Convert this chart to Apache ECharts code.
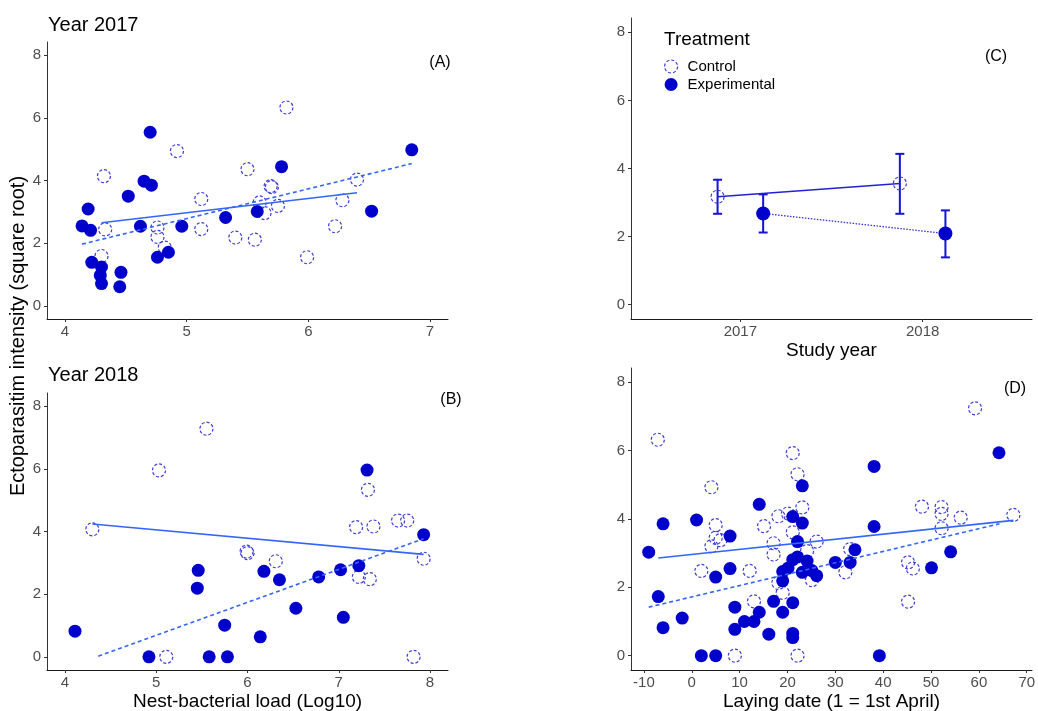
<!DOCTYPE html>
<html>
<head>
<meta charset="utf-8">
<script src="https://cdn.jsdelivr.net/npm/echarts@6/dist/echarts.min.js"></script>
<style>
  html, body { margin: 0; padding: 0; background: #fff; }
  #chart { width: 1038px; height: 711px; }
</style>
</head>
<body>
<div id="chart"></div>
<script>
// ---- tick values ----
const yTicks = [0, 2, 4, 6, 8];
const loadTicks2017 = [4, 5, 6, 7];
const loadTicks2018 = [4, 5, 6, 7, 8];
const dateTicks = [-10, 0, 10, 20, 30, 40, 50, 60, 70];
const studyYears = [2017, 2018];

// ---- (A) 2017: nest-bacterial load vs intensity ----
const load2017Control = [
  [4.32, 4.14], [4.33, 2.44], [4.30, 1.59], [4.76, 2.50], [4.76, 2.20], [4.82, 1.86],
  [4.92, 4.94], [5.12, 3.41], [5.12, 2.45], [5.40, 2.18], [5.50, 4.36], [5.56, 2.11],
  [5.60, 3.30], [5.64, 2.96], [5.69, 3.82], [5.70, 3.79], [5.75, 3.19], [5.82, 6.33],
  [5.99, 1.55], [6.22, 2.54], [6.28, 3.37], [6.40, 4.03]
];
const load2017Experimental = [
  [4.14, 2.55], [4.19, 3.09], [4.21, 2.41], [4.22, 1.39], [4.30, 1.24], [4.29, 0.97],
  [4.30, 0.71], [4.45, 0.61], [4.46, 1.07], [4.52, 3.50], [4.62, 2.54], [4.65, 3.98],
  [4.71, 3.85], [4.70, 5.54], [4.76, 1.55], [4.85, 1.71], [4.96, 2.54], [5.32, 2.82],
  [5.58, 3.01], [5.78, 4.44], [6.52, 3.02], [6.85, 4.98]
];
const fit2017Control = [[4.30, 2.65], [6.40, 3.61]];
const fit2017Experimental = [[4.14, 1.97], [6.85, 4.54]];

// ---- (B) 2018: nest-bacterial load vs intensity ----
const load2018Control = [
  [4.30, 4.07], [5.03, 5.95], [5.11, 0.00], [5.55, 7.28], [5.99, 3.36], [6.00, 3.31],
  [6.31, 3.05], [7.19, 4.14], [7.22, 2.55], [7.32, 5.33], [7.34, 2.48], [7.38, 4.16],
  [7.65, 4.35], [7.75, 4.35], [7.82, 0.00], [7.93, 3.13]
];
const load2018Experimental = [
  [4.11, 0.82], [4.92, 0.00], [5.46, 2.76], [5.45, 2.19], [5.58, 0.00], [5.75, 1.01],
  [5.78, 0.00], [6.14, 0.64], [6.18, 2.73], [6.35, 2.46], [6.53, 1.55], [6.78, 2.55],
  [7.02, 2.78], [7.05, 1.26], [7.22, 2.91], [7.31, 5.96], [7.93, 3.90]
];
const fit2018Control = [[4.30, 4.24], [7.93, 3.27]];
const fit2018Experimental = [[4.365, 0.02], [7.93, 3.77]];

// ---- (C) means and error bars by study year ----
const meanControl = [3.17, 3.56];
const lowControl = [2.67, 2.67];
const highControl = [3.67, 4.43];
const meanExperimental = [2.68, 2.09];
const lowExperimental = [2.12, 1.39];
const highExperimental = [3.24, 2.77];

// ---- (D) laying date vs intensity ----
const dateControl = [
  [-7.1, 6.32], [2.0, 2.48], [4.1, 4.93], [4.1, 3.20], [5.0, 3.82], [5.0, 3.45],
  [6.0, 3.38], [9.0, 0.00], [12.1, 2.48], [13.0, 1.59], [15.1, 3.79], [17.1, 3.29],
  [17.1, 2.96], [18.1, 4.08], [18.1, 2.13], [19.0, 1.84], [20.1, 4.16], [21.1, 5.93],
  [21.1, 3.61], [22.1, 5.31], [22.1, 0.00], [23.1, 4.34], [24.1, 3.06], [25.1, 2.21],
  [26.1, 3.34], [32.1, 2.44], [33.1, 3.12], [45.2, 2.73], [45.2, 1.58], [46.2, 2.55],
  [48.1, 4.36], [52.2, 4.35], [52.2, 4.15], [52.2, 3.73], [56.2, 4.04], [59.2, 7.24],
  [67.2, 4.12]
];
const dateExperimental = [
  [-9.0, 3.03], [-7.0, 1.73], [-6.0, 3.86], [-6.0, 0.82], [-2.0, 1.10], [1.0, 3.97],
  [2.0, 0.00], [5.0, 0.00], [5.0, 2.30], [8.0, 3.50], [8.0, 2.55], [9.0, 1.42],
  [9.0, 0.77], [11.0, 1.00], [13.0, 1.00], [14.1, 4.43], [14.1, 1.27], [16.1, 0.63],
  [17.1, 1.59], [19.0, 1.27], [19.0, 2.46], [19.0, 2.19], [20.1, 2.56], [21.1, 1.55],
  [21.1, 4.07], [21.1, 2.81], [21.1, 0.65], [21.1, 0.53], [22.1, 3.34], [22.1, 2.89],
  [23.1, 4.97], [23.1, 3.88], [23.1, 2.44], [24.1, 2.77], [25.1, 2.49], [26.1, 2.34],
  [30.0, 2.73], [33.1, 2.73], [34.1, 3.10], [38.1, 5.54], [38.1, 3.78], [39.2, 0.00],
  [50.1, 2.57], [54.1, 3.04], [64.2, 5.94]
];
const fitDateControl = [[-7.0, 2.86], [67.2, 3.96]];
const fitDateExperimental = [[-9.0, 1.42], [64.3, 3.86]];

// ---- styles ----
const FONT = '"Liberation Sans", Arial, sans-serif';
const FILL = '#0000CD';
const OPEN = '#3a3ad6';
const FIT = '#3366FF';
const BAR = '#1414d2';
const DODGE = 0.125;

const openStyle = { color: 'rgba(255,255,255,0)', borderColor: OPEN, borderWidth: 1.2, borderType: [3, 2], opacity: 1 };
const fillStyle = { color: FILL, opacity: 1 };

function xAxisFor(grid, min, max, ticks, name) {
  return {
    type: 'value', gridIndex: grid, min: min, max: max,
    splitLine: { show: false },
    axisLine: { onZero: false, lineStyle: { color: '#1a1a1a', width: 1 } },
    axisTick: { show: true, length: 3, customValues: ticks, lineStyle: { color: '#333' } },
    axisLabel: { customValues: ticks, color: '#4d4d4d', fontSize: 15, fontFamily: FONT, margin: 5,
                 formatter: v => String(v) },
    name: name || '', nameLocation: 'middle', nameGap: 22,
    nameTextStyle: { color: '#000', fontSize: 19, fontFamily: FONT }
  };
}
function yAxisFor(grid) {
  return {
    type: 'value', gridIndex: grid, min: -0.42, max: 8.42,
    splitLine: { show: false },
    axisLine: { onZero: false, lineStyle: { color: '#333', width: 1 } },
    axisTick: { show: true, length: 3, customValues: yTicks, lineStyle: { color: '#333' } },
    axisLabel: { customValues: yTicks, color: '#4d4d4d', fontSize: 15, fontFamily: FONT, margin: 6,
                 formatter: v => String(v) }
  };
}
function scatter(name, idx, data, style) {
  return { type: 'scatter', name: name, xAxisIndex: idx, yAxisIndex: idx, data: data,
           symbol: 'circle', symbolSize: 13, itemStyle: style, z: 2 };
}
function fitLine(name, idx, data, dashed) {
  return { type: 'line', name: name, xAxisIndex: idx, yAxisIndex: idx, data: data,
           showSymbol: false, symbol: 'none', silent: true, z: 3,
           lineStyle: { color: FIT, width: 1.6, type: dashed ? [4, 3] : 'solid' } };
}

// dodged positions for the study-year panel
const ctrlMeans = studyYears.map((y, i) => [y - DODGE, meanControl[i]]);
const expMeans = studyYears.map((y, i) => [y + DODGE, meanExperimental[i]]);
const ctrlBars = studyYears.map((y, i) => [y - DODGE, lowControl[i], highControl[i]]);
const expBars = studyYears.map((y, i) => [y + DODGE, lowExperimental[i], highExperimental[i]]);

function renderErrorBar(params, api) {
  const x = api.value(0);
  const lo = api.coord([x, api.value(1)]);
  const hi = api.coord([x, api.value(2)]);
  const cap = 4.5;
  const style = { stroke: BAR, lineWidth: 2 };
  return {
    type: 'group',
    children: [
      { type: 'line', shape: { x1: lo[0], y1: lo[1], x2: hi[0], y2: hi[1] }, style: style },
      { type: 'line', shape: { x1: hi[0] - cap, y1: hi[1], x2: hi[0] + cap, y2: hi[1] }, style: style },
      { type: 'line', shape: { x1: lo[0] - cap, y1: lo[1], x2: lo[0] + cap, y2: lo[1] }, style: style }
    ]
  };
}

const gridBase = { containLabel: false, outerBoundsMode: 'none' };

const option = {
  animation: false,
  backgroundColor: '#fff',
  textStyle: { fontFamily: FONT },
  grid: [
    Object.assign({ left: 47, top: 42, width: 401, height: 277 }, gridBase),
    Object.assign({ left: 47, top: 393, width: 401, height: 277 }, gridBase),
    Object.assign({ left: 631, top: 18, width: 401, height: 301 }, gridBase),
    Object.assign({ left: 631, top: 368, width: 401, height: 302 }, gridBase)
  ],
  xAxis: [
    xAxisFor(0, 3.852, 7.148, loadTicks2017),
    xAxisFor(1, 3.803, 8.197, loadTicks2018, 'Nest-bacterial load (Log10)'),
    xAxisFor(2, 2016.4, 2018.6, studyYears, 'Study year'),
    xAxisFor(3, -12.7, 71.1, dateTicks, 'Laying date (1 = 1st April)')
  ],
  yAxis: [yAxisFor(0), yAxisFor(1), yAxisFor(2), yAxisFor(3)],
  legend: {
    left: 664, top: 59, orient: 'vertical', itemWidth: 13, itemHeight: 13, itemGap: 3,
    padding: 0,
    textStyle: { fontSize: 15, color: '#000', fontFamily: FONT, padding: [0, 0, 0, 5] },
    data: [
      { name: 'Control', icon: 'circle', itemStyle: openStyle },
      { name: 'Experimental', icon: 'circle', itemStyle: fillStyle }
    ]
  },
  graphic: [
    { type: 'text', left: 48, top: 15, style: { text: 'Year 2017', fontSize: 20, fontFamily: FONT, fill: '#000' } },
    { type: 'text', left: 48, top: 365, style: { text: 'Year 2018', fontSize: 20, fontFamily: FONT, fill: '#000' } },
    { type: 'text', left: 664, top: 30, style: { text: 'Treatment', fontSize: 19, fontFamily: FONT, fill: '#000' } },
    { type: 'text', x: 440, y: 63, style: { text: '(A)', fontSize: 16, fontFamily: FONT, fill: '#000', align: 'center', verticalAlign: 'middle' } },
    { type: 'text', x: 451, y: 400, style: { text: '(B)', fontSize: 16, fontFamily: FONT, fill: '#000', align: 'center', verticalAlign: 'middle' } },
    { type: 'text', x: 996, y: 57, style: { text: '(C)', fontSize: 16, fontFamily: FONT, fill: '#000', align: 'center', verticalAlign: 'middle' } },
    { type: 'text', x: 1015, y: 389, style: { text: '(D)', fontSize: 16, fontFamily: FONT, fill: '#000', align: 'center', verticalAlign: 'middle' } },
    { type: 'text', x: 18, y: 336, rotation: Math.PI / 2,
      style: { text: 'Ectoparasitim intensity (square root)', fontSize: 20, fontFamily: FONT, fill: '#000', align: 'center', verticalAlign: 'middle' } }
  ],
  series: [
    // (A)
    scatter('Control', 0, load2017Control, openStyle),
    scatter('Experimental', 0, load2017Experimental, fillStyle),
    fitLine('Control fit', 0, fit2017Control, false),
    fitLine('Experimental fit', 0, fit2017Experimental, true),
    // (B)
    scatter('Control', 1, load2018Control, openStyle),
    scatter('Experimental', 1, load2018Experimental, fillStyle),
    fitLine('Control fit', 1, fit2018Control, false),
    fitLine('Experimental fit', 1, fit2018Experimental, true),
    // (C)
    { type: 'custom', name: 'Control', xAxisIndex: 2, yAxisIndex: 2, data: ctrlBars, renderItem: renderErrorBar, z: 1 },
    { type: 'custom', name: 'Experimental', xAxisIndex: 2, yAxisIndex: 2, data: expBars, renderItem: renderErrorBar, z: 1 },
    { type: 'line', name: 'Control', xAxisIndex: 2, yAxisIndex: 2, data: ctrlMeans, symbol: 'circle', symbolSize: 13,
      showSymbol: true, itemStyle: openStyle, lineStyle: { color: '#2222d4', width: 1.3 }, z: 3 },
    { type: 'line', name: 'Experimental', xAxisIndex: 2, yAxisIndex: 2, data: expMeans, symbol: 'circle', symbolSize: 14,
      showSymbol: true, itemStyle: fillStyle, lineStyle: { color: '#3030d8', width: 1.3, type: [1.5, 1.5] }, z: 3 },
    // (D)
    scatter('Control', 3, dateControl, openStyle),
    scatter('Experimental', 3, dateExperimental, fillStyle),
    fitLine('Control fit', 3, fitDateControl, false),
    fitLine('Experimental fit', 3, fitDateExperimental, true)
  ]
};

const chart = echarts.init(document.getElementById('chart'), null, { renderer: 'canvas' });
chart.setOption(option);
</script>
</body>
</html>
